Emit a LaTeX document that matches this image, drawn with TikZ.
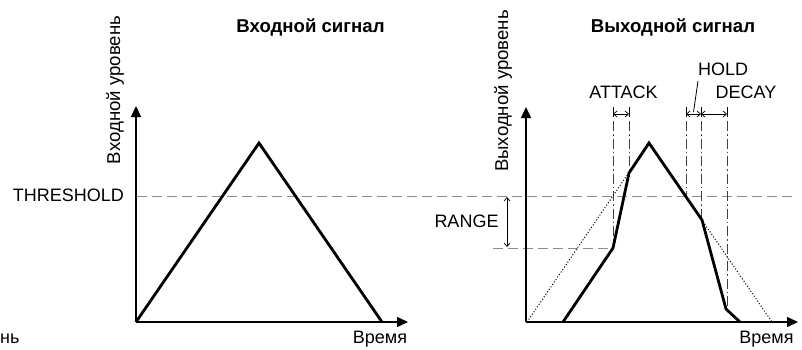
\documentclass[tikz,border=0pt]{standalone}
\usepackage{fontspec}
\setmainfont{Liberation Sans}
\usetikzlibrary{arrows.meta}
\begin{document}
\begin{tikzpicture}[x=1pt,y=-1pt,
 lbl/.style={font=\fontsize{18}{20}\selectfont, inner sep=0pt},
 ylbl/.style={font=\fontsize{18.6}{20}\selectfont, inner sep=0pt},
 ttl/.style={font=\fontsize{18.6}{20}\selectfont\bfseries, inner sep=0pt},
 axis/.style={line width=1.4pt, -{Triangle[length=11pt,width=10pt]}},
 sig/.style={line width=2.8pt, line join=miter},
 thr/.style={black!45, line width=1pt, dash pattern=on 10pt off 5pt},
 dotl/.style={line width=1pt, dash pattern=on 1pt off 2pt},
 vline/.style={black!75, line width=1pt, dash pattern=on 10pt off 3pt on 1.5pt off 3pt},
 dim/.style={line width=0.7pt, {Straight Barb[length=3.5pt,width=6pt]}-{Straight Barb[length=3.5pt,width=6pt]}},
 tickl/.style={line width=0.8pt}
]
\useasboundingbox (0,0) rectangle (802,349);

% ---------- left chart ----------
\coordinate (O1) at (136,322);
\coordinate (Y1) at (136,106);
\coordinate (X1) at (408,322);
\coordinate (A1) at (136,322);
\coordinate (B1) at (259,143);
\coordinate (C1) at (382,322);
\coordinate (T1) at (137,196);
\coordinate (T2) at (792,196);
\draw[thr] (T1) -- (T2);
\draw[sig] (A1) -- (B1) -- (C1);
\draw[axis] (O1) -- (Y1);
\draw[axis] (O1) -- (X1);

\node[ttl, anchor=base] (title1) at (310.5,32) {Входной сигнал};
\node[ylbl, anchor=base, rotate=90] (ylab1) at (120,90) {Входной уровень};
\node[lbl, anchor=base east] (thrlbl) at (124,201) {THRESHOLD};
\node[lbl, anchor=base] (xlab1) at (380,343.5) {Время};
\node[lbl, anchor=base west] (frag) at (0,343.5) {нь};

% ---------- right chart ----------
\coordinate (O2) at (526,322);
\coordinate (Y2) at (526,107);
\coordinate (X2) at (798,322);
\coordinate (A2) at (527,322);
\coordinate (B2) at (649,143);
\coordinate (C2) at (772,322);
\coordinate (S1) at (563,322);
\coordinate (S2) at (613,248);
\coordinate (S3) at (629,173);
\coordinate (S4) at (702,220);
\coordinate (S5) at (726,309);
\coordinate (S6) at (740,322);

% range dashed line
\coordinate (R1) at (493,248);
\draw[thr] (R1) -- (S2);

% vertical dash-dot lines
\foreach \n/\x/\yb in {v1/613/248, v2/629/173, v3/686/196, v4/701/220, v5/727/309}{
  \coordinate (\n t) at (\x,107);
  \coordinate (\n m) at (\x,117);
  \coordinate (\n s) at (\x,121);
  \coordinate (\n b) at (\x,\yb);
  \draw[tickl] (\n t) -- (\n m);
  \draw[vline] (\n s) -- (\n b);
}

\draw[dotl] (A2) -- (B2) -- (C2);
\draw[sig] (S1) -- (S2) -- (S3) -- (B2) -- (S4) -- (S5) -- (S6);
\draw[axis] (O2) -- (Y2);
\draw[axis] (O2) -- (X2);

% dimension arrows
\coordinate (d1) at (613,114);
\coordinate (d2) at (629,114);
\coordinate (d3) at (686,114);
\coordinate (d4) at (701,114);
\coordinate (d5) at (727,114);
\draw[dim] (d1) -- (d2);
\draw[dim] (d3) -- (d4);
\draw[dim] (d4) -- (d5);

% range arrow
\coordinate (rt) at (507,197);
\coordinate (rb) at (507,247);
\draw[dim] (rt) -- (rb);

% hold leader
\coordinate (h1) at (698,81);
\coordinate (h2) at (693.5,112);
\draw[line width=0.8pt] (h1) -- (h2);

\node[ttl, anchor=base] (title2) at (673,32) {Выходной сигнал};
\node[ylbl, anchor=base, rotate=90] (ylab2) at (508,91) {Выходной уровень};
\node[lbl, anchor=base] (xlab2) at (766.5,343.5) {Время};
\node[lbl, anchor=base] (attack) at (623.5,98) {ATTACK};
\node[lbl, anchor=base] (hold) at (723,75) {HOLD};
\node[lbl, anchor=base] (decay) at (746,98) {DECAY};
\node[lbl, anchor=base] (range) at (466.5,227) {RANGE};
\end{tikzpicture}
\end{document}
